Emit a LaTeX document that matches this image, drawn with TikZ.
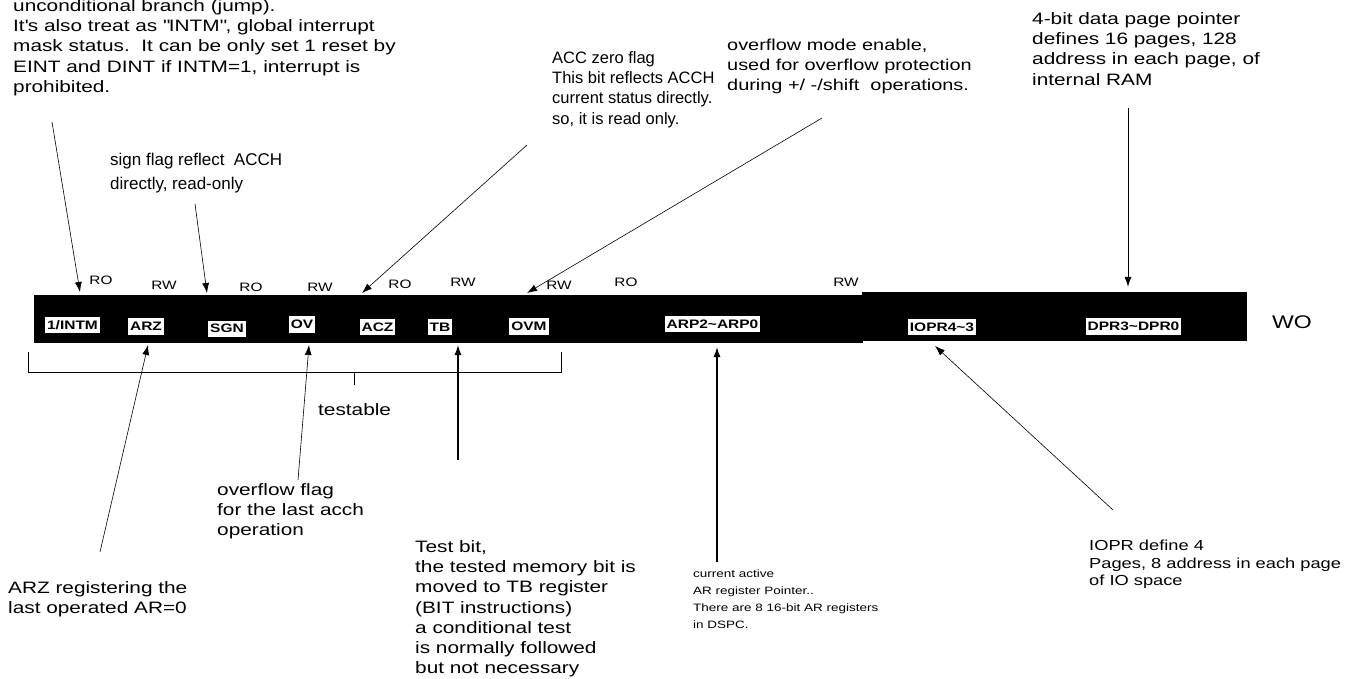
\documentclass[tikz,border=0pt]{standalone}
\usepackage{fontspec}
\setmainfont{Liberation Sans}[FakeStretch=1.26]
\newfontfamily\plainsans{Liberation Sans}
\usetikzlibrary{arrows.meta,positioning}
\tikzset{>={Latex[length=10pt,width=7pt]}}
\tikzset{
  note/.style={anchor=north west, inner sep=0pt, align=left, font=\fontsize{16.5}{20.3}\selectfont},
  plainnote/.style={note, font=\plainsans\fontsize{16.5}{20.3}\selectfont},
  smallnote/.style={note, font=\fontsize{10.7}{16.7}\selectfont},
  bit/.style={fill=white, inner xsep=2pt, inner ysep=0pt, minimum height=16pt, font=\fontsize{12.3}{12.3}\selectfont\bfseries},
  acc/.style={inner sep=0pt, font=\fontsize{12.2}{12.2}\selectfont},
  lead/.style={line width=0.6pt},
  push/.style={->, line width=1.3pt},
}

\begin{document}
\begin{tikzpicture}[x=1pt,y=-1pt]
\useasboundingbox (0,0) rectangle (1361,679);

% register bar
\fill (34,295) rectangle (863,343);
\fill (862,292) rectangle (1247,341);

% bit fields
\node[bit] (intm) at (72.5,325) {1/INTM};
\node[bit] (arz)  at (146,326.5) {ARZ};
\node[bit] (sgn)  at (227,328.5) {SGN};
\node[bit] (ov)   at (302,324.5) {OV};
\node[bit] (acz)  at (377.5,327) {ACZ};
\node[bit] (tb)   at (440,327) {TB};
\node[bit] (ovm)  at (529,326.5) {OVM};
\node[bit] (arp)  at (712.5,324) {ARP2\textasciitilde ARP0};
\node[bit] (iopr) at (942,327) {IOPR4\textasciitilde 3};
\node[bit] (dpr)  at (1133.5,326.5) {DPR3\textasciitilde DPR0};
\node[acc, font=\fontsize{18.3}{18.3}\selectfont] (wo) at (1292,322) {WO};

% access modes
\foreach \t/\x/\y [count=\i] in {RO/101/280, RW/164/285, RO/251/287, RW/320/287, RO/400/284,
    RW/463/282, RW/559/285, RO/626/282, RW/846/282}
  \node[acc] (mode\i) at (\x,\y) {\t};

% notes above
\node[note] (intmNote) at (13,-1) {unconditional branch (jump).\\It\textquotesingle s also treat as \textquotedbl INTM\textquotedbl, global interrupt\\mask status.\ \ It can be only set 1 reset by\\EINT and DINT if INTM=1, interrupt is\\prohibited.};
\node[plainnote, font=\plainsans\fontsize{17}{23.5}\selectfont] (sgnNote) at (110,153) {sign flag reflect\ \ ACCH\\directly, read-only};
\node[plainnote] (aczNote) at (552,51) {ACC zero flag\\This bit reflects ACCH\\current status directly.\\so, it is read only.};
\node[note, font=\fontsize{15.8}{19.7}\selectfont] (ovmNote) at (727,39) {overflow mode enable,\\used for overflow protection\\during +/ -/shift\ \ operations.};
\node[note] (dprNote) at (1032,12) {4-bit data page pointer\\defines 16 pages, 128\\address in each page, of\\internal RAM};

% notes below
\node[note] (testNote) at (318,403) {testable};
\node[note] (ovNote) at (217,483) {overflow flag\\for the last acch\\operation};
\node[note] (tbNote) at (415,540) {Test bit,\\the tested memory bit is\\moved to TB register\\(BIT instructions)\\a conditional test\\is normally followed\\but not necessary};
\node[smallnote] (arpNote) at (693,570) {current active\\AR register Pointer..\\There are 8 16-bit AR registers\\in DSPC.};
\node[note, font=\fontsize{14.5}{17.5}\selectfont] (ioprNote) at (1089,540) {IOPR define 4\\Pages, 8 address in each page\\of IO space};
\node[note] (arzNote) at (8,581) {ARZ registering the\\last operated AR=0};

% leader ends
\coordinate (intmFrom) at (52,122);   \coordinate (intmTo) at (80,292);
\coordinate (sgnFrom) at (195,204);   \coordinate (sgnTo) at (207,293);
\coordinate (aczFrom) at (527,145);   \coordinate (aczTo) at (362,293);
\coordinate (ovmFrom) at (822,118);   \coordinate (ovmTo) at (527,293);
\coordinate (dprFrom) at (1128,108);  \coordinate (dprTo) at (1128,287);
\coordinate (arzFrom) at (100,552);   \coordinate (arzTo) at (148,345);
\coordinate (ovFrom) at (298,480);    \coordinate (ovTo) at (309,345);
\coordinate (tbFrom) at (458,460);    \coordinate (tbTo) at (458,345);
\coordinate (arpFrom) at (717,562);   \coordinate (arpTo) at (717,347);
\coordinate (ioprFrom) at (1113,510); \coordinate (ioprTo) at (935,346);

\draw[lead,->] (intmFrom) -- (intmTo);
\draw[lead,->] (sgnFrom) -- (sgnTo);
\draw[lead,->] (aczFrom) -- (aczTo);
\draw[lead,->] (ovmFrom) -- (ovmTo);
\draw[->, line width=1pt] (dprFrom) -- (dprTo);
\draw[lead,->] (arzFrom) -- (arzTo);
\draw[lead,->] (ovFrom) -- (ovTo);
\draw[push] (tbFrom) -- (tbTo);
\draw[push] (arpFrom) -- (arpTo);
\draw[lead,->] (ioprFrom) -- (ioprTo);

% testable bracket
\draw[lead] (28,352) -- (28,372) -- (561,372) -- (561,352);
\draw[lead] (354,372) -- (354,385);
\end{tikzpicture}
\end{document}
